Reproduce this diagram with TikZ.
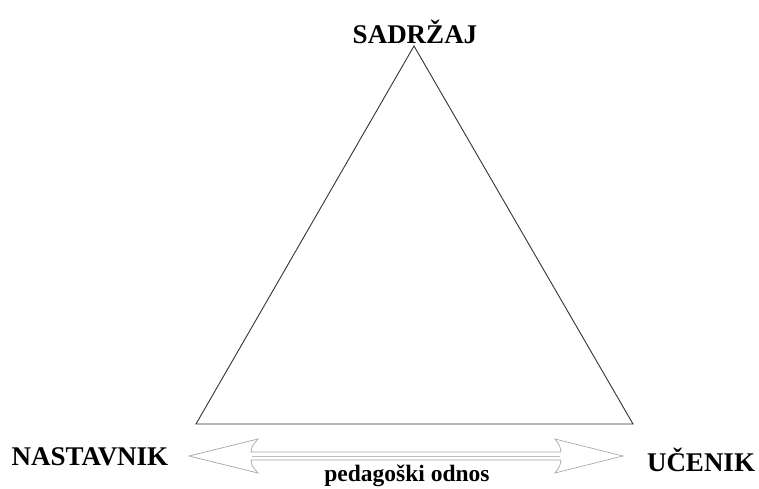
\documentclass[tikz,border=0pt]{standalone}
\usepackage{fontspec}
\setmainfont{Liberation Serif}
\begin{document}
\begin{tikzpicture}[x=1pt,y=1pt,
  corner/.style={font=\bfseries\fontsize{27}{30}\selectfont, inner sep=0pt},
  relation/.style={font=\bfseries\fontsize{23.5}{26}\selectfont, inner sep=0pt},
  side/.style={draw=black!80, line width=0.9pt},
  dblarrow/.style={draw=black!35, line width=0.7pt, fill=white}]
\useasboundingbox (0,0) rectangle (759,488);
% vertices of the triangle
\coordinate (top) at (414,442);
\coordinate (bl) at (196,64);
\coordinate (br) at (633,64);
\draw[side] (top) -- (bl) -- (br) -- cycle;
% labels
\node[corner] (sad) at (415,456) {SADRŽAJ};
\node[corner] (nas) at (90,31) {NASTAVNIK};
\node[corner] (uce) at (701,28) {UČENIK};
% two-headed arrow between the two bottom labels
\coordinate (lt) at (189,32);
\coordinate (rt) at (623,32);
\draw[dblarrow] (lt) -- (258,49) .. controls (252,42) .. (251,36)
  -- (561,36) .. controls (560,42) .. (555,49) -- (rt)
  -- (555,15) .. controls (560,22) .. (561,28)
  -- (251,28) .. controls (252,22) .. (258,15) -- cycle;
\draw[draw=black!25, line width=0.4pt] (252,32) -- (560,32);
\node[relation] (ped) at (407,12) {pedagoški odnos};
\end{tikzpicture}
\end{document}
